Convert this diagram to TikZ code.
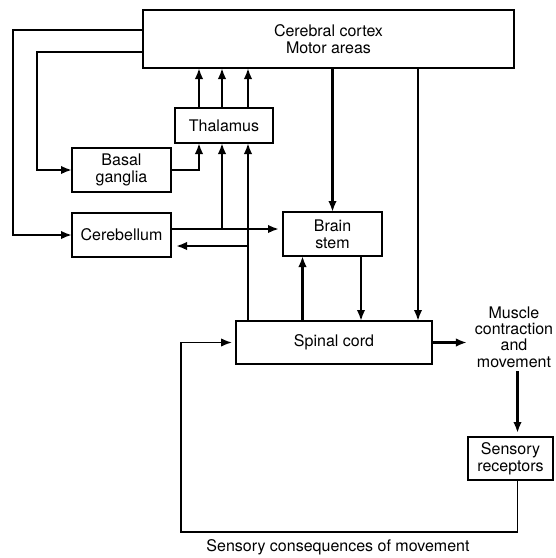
\documentclass[tikz,border=0pt]{standalone}
\usepackage{fontspec}
\setmainfont{TeX Gyre Heros}
\usetikzlibrary{arrows.meta}
\begin{document}
\begin{tikzpicture}[x=1pt,y=-1pt,
  box/.style={draw,line width=1.4pt,inner sep=0pt,outer sep=0pt,align=center,
    font=\fontsize{16}{16.8}\selectfont},
  lbl/.style={inner sep=0pt,outer sep=0pt,align=center,font=\fontsize{16}{16.2}\selectfont},
  wire/.style={line width=2.5pt},
  arr/.style={line width=2.5pt,-{Latex[length=11pt,width=8.5pt]}},
  loop/.style={line width=1.7pt,-{Latex[length=11pt,width=8.5pt]}}]
\useasboundingbox (0,0) rectangle (556,558);

% boxes
\node[box,minimum width=371pt,minimum height=58pt] (cortex) at (328.5,39) {Cerebral cortex\\Motor areas};
\node[box,minimum width=98pt,minimum height=35pt] (thal) at (224,125.5) {Thalamus};
\node[box,minimum width=99pt,minimum height=44pt] (basal) at (121.5,170) {Basal\\ganglia};
\node[box,minimum width=99pt,minimum height=44pt] (cereb) at (121.5,235) {Cerebellum};
\node[box,minimum width=99pt,minimum height=44pt] (stem) at (332.5,234) {Brain\\stem};
\node[box,minimum width=196pt,minimum height=43pt] (spinal) at (334,342.5) {Spinal cord};
\node[box,minimum width=85pt,minimum height=43pt] (sens) at (510.5,458.5) {Sensory\\receptors};
\node[lbl] (muscle) at (514,337) {Muscle\\contraction\\and\\movement};
\node[lbl] (conseq) at (338,547) {Sensory consequences of movement};

% helper points
\coordinate (thA) at ([xshift=-25pt]thal.south);
\coordinate (thB) at ([xshift=-2pt]thal.south);
\coordinate (thC) at ([xshift=24pt]thal.south);
\coordinate (tnA) at ([xshift=-25pt]thal.north);
\coordinate (tnB) at ([xshift=-2pt]thal.north);
\coordinate (tnC) at ([xshift=24pt]thal.north);
\coordinate (cbOut) at ([yshift=6pt]cereb.east);
\coordinate (cbIn) at ([yshift=-11pt]cereb.east);
\coordinate (stUp) at ([xshift=-30pt]stem.south);
\coordinate (stDn) at ([xshift=28.5pt]stem.south);
\coordinate (scCx) at ([xshift=84pt]spinal.north);
\coordinate (snTop) at ([xshift=7pt]sens.north);
\coordinate (snBot) at ([xshift=7pt]sens.south);

% cortex to cerebellum and basal ganglia
\draw[arr] ([yshift=9pt]cortex.west) -- ++(-130,0) |- (cereb.west);
\draw[arr] ([yshift=-13pt]cortex.west) -- ++(-106,0) |- (basal.west);

% thalamus to cortex
\draw[arr] (tnA) -- (tnA |- cortex.south);
\draw[arr] (tnB) -- (tnB |- cortex.south);
\draw[arr] (tnC) -- (tnC |- cortex.south);

% basal ganglia to thalamus
\draw[arr] (basal.east) -| (thA);

% cerebellum to brain stem, branch to thalamus
\draw[arr,shorten >=4pt] (cbOut) -- (cbOut -| stem.west);
\draw[arr] (cbOut -| thB) -- (thB);

% spinal cord to thalamus, crossing the cerebellar line
\draw[wire] (thC |- spinal.north) -- ([yshift=7pt]thC |- cbOut);
\draw[arr] ([yshift=-6pt]thC |- cbOut) -- (thC);
\draw[arr,shorten >=5pt] (thC |- cbIn) -- (cbIn);

% cortex to brain stem and spinal cord
\draw[arr] (stem.north |- cortex.south) -- (stem.north);
\draw[arr] (scCx |- cortex.south) -- (scCx);

% brain stem and spinal cord
\draw[arr] (stUp |- spinal.north) -- (stUp);
\draw[arr] (stDn) -- (stDn |- spinal.north);

% output and sensory feedback
\draw[arr,shorten >=8pt] (spinal.east) -- (spinal.east -| muscle.west);
\draw[arr,shorten <=4pt,shorten >=4pt] (snTop |- muscle.south) -- (snTop);
\draw[loop,shorten >=4pt] (snBot) -- ++(0,52) -| ([xshift=-55pt]spinal.west) -- (spinal.west);
\end{tikzpicture}
\end{document}
